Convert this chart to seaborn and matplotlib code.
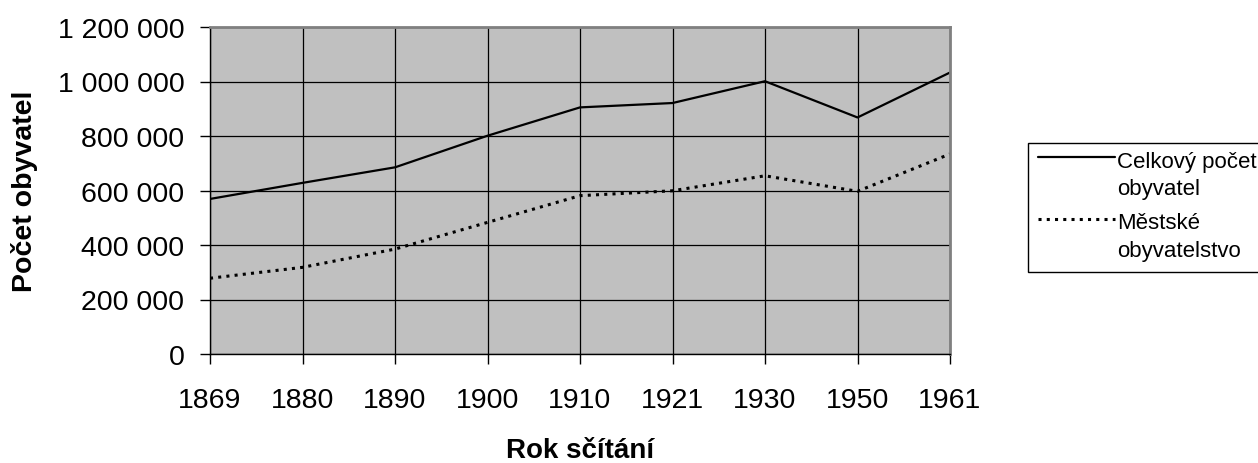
import matplotlib
matplotlib.use("Agg")
import matplotlib.pyplot as plt
import matplotlib.ticker as mticker
from matplotlib.lines import Line2D
from matplotlib.patches import Rectangle
import seaborn as sns
import pandas as pd

# data
years = ["1869", "1880", "1890", "1900", "1910", "1921", "1930", "1950", "1961"]
celkovy = [569000, 628000, 685000, 801000, 905000, 921000, 1001000, 868000, 1033000]
mestske = [278000, 318000, 385000, 483000, 581000, 599000, 654000, 597000, 734000]

label_total = ["Celkový počet", "obyvatel"]
label_urban = ["Městské", "obyvatelstvo"]

df = pd.DataFrame({"Rok": years, "total": celkovy, "urban": mestske})

sns.set_style("white")
plt.rcParams["font.family"] = ["Liberation Sans", "DejaVu Sans"]
plt.rcParams["text.color"] = "black"
plt.rcParams["axes.labelcolor"] = "black"
plt.rcParams["xtick.color"] = "black"
plt.rcParams["ytick.color"] = "black"

W, H = 1258, 464
fig = plt.figure(figsize=(W / 100, H / 100), dpi=100)
ax = fig.add_axes([210 / W, 1 - 355 / H, 740 / W, 327 / H])
ax.set_facecolor("#c0c0c0")

sns.lineplot(data=df, x="Rok", y="total", ax=ax, color="black", lw=1.6, sort=False)
sns.lineplot(data=df, x="Rok", y="urban", ax=ax, color="black", lw=2.2, sort=False)
dotted = (0, (1, 1.7))
ax.lines[1].set_linestyle(dotted)
ax.lines[1].set_dash_capstyle("butt")

ax.set_xlim(0, len(years) - 1)
ax.set_ylim(0, 1200000)
ax.yaxis.set_major_locator(mticker.MultipleLocator(200000))
ax.yaxis.set_major_formatter(mticker.FuncFormatter(lambda v, p: f"{int(v):,}".replace(",", " ")))

ax.grid(True, color="black", lw=0.9)
ax.set_axisbelow(True)
for s in ["top", "right"]:
    ax.spines[s].set_color("#808080")
    ax.spines[s].set_linewidth(2)
for s in ["left", "bottom"]:
    ax.spines[s].set_color("black")
    ax.spines[s].set_linewidth(1)

ax.tick_params(axis="both", which="major", direction="out", length=7.5, width=1,
               color="black", labelcolor="black", labelsize=20.5, left=True, bottom=True)
ax.tick_params(axis="y", pad=11)
ax.tick_params(axis="x", pad=16)

ax.set_xlabel("Rok sčítání", fontsize=20, fontweight="bold", color="black")
ax.set_ylabel("Počet obyvatel", fontsize=20.5, fontweight="bold", color="black")
ax.xaxis.set_label_coords(0.5, (355 - 438) / 327)
ax.yaxis.set_label_coords((38 - 210) / 740, 0.5)

# legend box drawn in figure pixels, handles aligned with the first text line
def fy(y):
    return 1 - y / H

fig.add_artist(Rectangle((1028 / W, fy(273)), 240 / W, 129 / H, transform=fig.transFigure,
                         facecolor="white", edgecolor="black", lw=1))
fig.add_artist(Line2D([1038 / W, 1115 / W], [fy(158), fy(158)], transform=fig.transFigure,
                      color="black", lw=1.6))
fig.add_artist(Line2D([1038 / W, 1115 / W], [fy(220), fy(220)], transform=fig.transFigure,
                      color="black", lw=2.2, linestyle=dotted, dash_capstyle="butt"))
for txt, base in zip(label_total + label_urban, [168, 195, 229, 257]):
    fig.text(1117 / W, fy(base), txt, fontsize=16, va="baseline", ha="left", color="black")

fig.savefig("out.png", dpi=100)
